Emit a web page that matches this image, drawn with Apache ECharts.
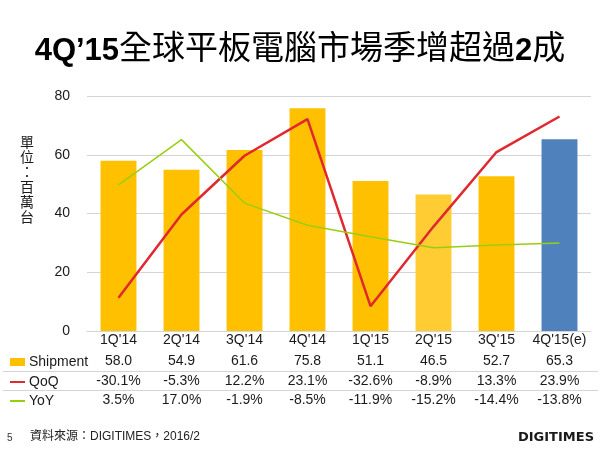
<!DOCTYPE html>
<html>
<head>
<meta charset="utf-8">
<script src="https://cdn.jsdelivr.net/npm/echarts@6/dist/echarts.min.js"></script>
<style>html,body{margin:0;padding:0;background:#fff}#c{width:600px;height:450px}</style>
</head>
<body>
<div id="c"></div>
<script>
const categories = ["1Q'14","2Q'14","3Q'14","4Q'14","1Q'15","2Q'15","3Q'15","4Q'15(e)"];
const shipment = [58.0, 54.9, 61.6, 75.8, 51.1, 46.5, 52.7, 65.3];
const qoq = [-30.1, -5.3, 12.2, 23.1, -32.6, -8.9, 13.3, 23.9];
const yoy = [3.5, 17.0, -1.9, -8.5, -11.9, -15.2, -14.4, -13.8];
const yTicks = [0, 20, 40, 60, 80];

const barColors = ['#FFC000','#FFC000','#FFC000','#FFC000','#FFC000','#FFCC33','#FFC000','#4F81BD'];
const txt = '#1a1a1a';
const font = '"Liberation Sans", Arial, sans-serif';
const chart = echarts.init(document.getElementById('c'), null, {renderer:'canvas'});

const G = {left:87, right:9, top:96, bottom:119};
function rowAxis(data, offset){
  return {type:'category', data:data, gridIndex:0, position:'bottom', offset:offset,
    axisLine:{show:false}, axisTick:{show:false},
    axisLabel:{color:txt, fontSize:14, fontFamily:font, margin:1, interval:0}};
}
chart.setOption({
  animation:false,
  title:{text:"{b|4Q’15}{r|全球平板電腦市場季增超過}{b|2}{r|成}", left:'center', top:21,
    textStyle:{fontWeight:'normal', rich:{
      b:{fontSize:31, fontWeight:'bold', fontFamily:font, color:'#000', padding:[10,0,0,0]},
      r:{fontSize:33, fontWeight:'normal', fontFamily:'"Noto Sans CJK TC", sans-serif', color:'#000'}}}},
  grid:G,
  legend:[
    {data:[{name:'Shipment', icon:'rect'}], left:5, top:350, itemWidth:15, itemHeight:8, itemGap:0,
      textStyle:{fontSize:14, fontFamily:font, color:txt, padding:[0,0,0,-1]}},
    {data:[{name:'QoQ', icon:'rect'}], left:5, top:370, itemWidth:15, itemHeight:2,
      textStyle:{fontSize:14, fontFamily:font, color:txt, padding:[0,0,0,-1]}},
    {data:[{name:'YoY', icon:'rect'}], left:5, top:389, itemWidth:15, itemHeight:2,
      textStyle:{fontSize:14, fontFamily:font, color:txt, padding:[0,0,0,-1]}}
  ],
  xAxis:[
    {type:'category', data:categories, position:'bottom',
      axisLine:{lineStyle:{color:'#d4d4d4', width:1}}, axisTick:{show:false},
      axisLabel:{color:txt, fontSize:14, fontFamily:font, margin:2, interval:0}},
    rowAxis(shipment.map(v=>v.toFixed(1)), 22),
    rowAxis(qoq.map(v=>v.toFixed(1)+'%'), 42),
    rowAxis(yoy.map(v=>v.toFixed(1)+'%'), 61)
  ],
  yAxis:[
    {type:'value', min:yTicks[0], max:yTicks[yTicks.length-1], interval:20,
      axisLine:{show:false}, axisTick:{show:false},
      splitLine:{lineStyle:{color:'#d4d4d4', width:1}},
      axisLabel:{color:txt, fontSize:14, fontFamily:font, margin:17}},
    {type:'value', min:-40, max:30, interval:10, show:false, splitLine:{show:false}}
  ],
  graphic:[
    {type:'text', left:20, top:134, style:{text:'單\n位\n：\n百\n萬\n台', font:'14px "Noto Sans CJK TC", sans-serif', fill:txt, lineHeight:15}},
    {type:'line', shape:{x1:3,y1:371.5,x2:598,y2:371.5}, style:{stroke:'#d4d4d4', lineWidth:1}},
    {type:'line', shape:{x1:3,y1:390.5,x2:598,y2:390.5}, style:{stroke:'#d4d4d4', lineWidth:1}},
    {type:'text', left:7, top:433, style:{text:'5', font:'10px '+font, fill:'#333'}},
    {type:'text', left:30, top:431, style:{text:'資料來源：DIGITIMES，2016/2', font:'12px "Liberation Sans", "Noto Sans CJK TC", sans-serif', fill:'#222'}},
    {type:'text', right:6, top:431, style:{text:'DIGITIMES', font:'900 13px "DejaVu Sans", sans-serif', fill:'#1a1a1a'}}
  ],
  series:[
    {name:'Shipment', type:'bar', xAxisIndex:0, yAxisIndex:0, barWidth:'57%',
      itemStyle:{color:'#FFC000'},
      data:shipment.map((v,i)=>({value:v, itemStyle:{color:barColors[i]}}))},
    {name:'QoQ', type:'line', xAxisIndex:0, yAxisIndex:1, data:qoq, showSymbol:false, symbol:'none',
      itemStyle:{color:'#E0282E'}, lineStyle:{color:'#E0282E', width:2.5}},
    {name:'YoY', type:'line', xAxisIndex:0, yAxisIndex:1, data:yoy, showSymbol:false, symbol:'none',
      itemStyle:{color:'#9ACD0F'}, lineStyle:{color:'#9ACD0F', width:1.5}}
  ]
});
</script>
</body>
</html>
